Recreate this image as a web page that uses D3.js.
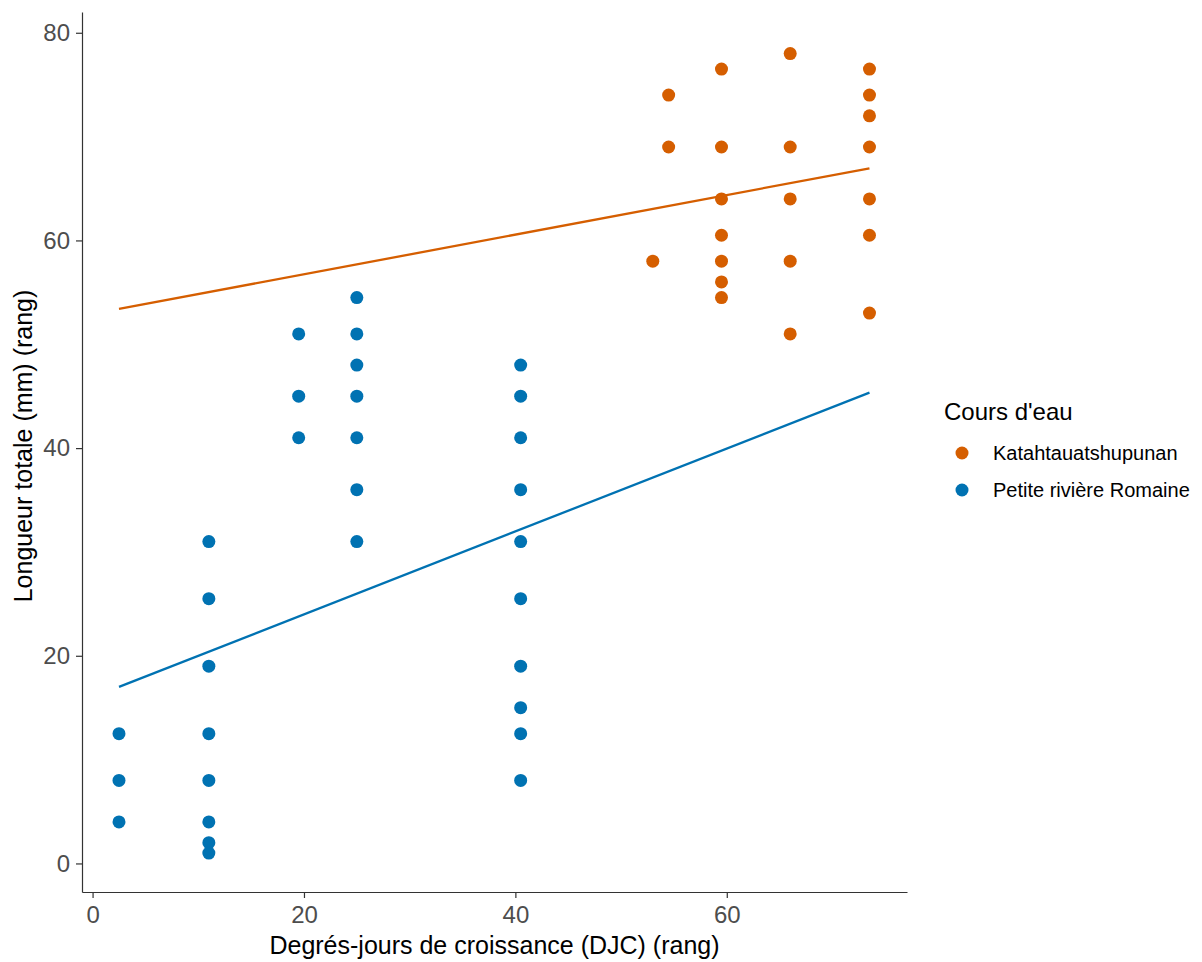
<!DOCTYPE html>
<html>
<head>
<meta charset="utf-8">
<script src="https://cdn.jsdelivr.net/npm/d3@7"></script>
<style>
  html, body { margin: 0; padding: 0; background: #fff; }
  svg { display: block; font-family: "Liberation Sans", Arial, sans-serif; }
</style>
</head>
<body>
<svg id="chart" width="1202" height="962"></svg>
<script>
// Rank of growing degree-days (x) vs rank of total length (y), per stream
const streams = ["Katahtauatshupunan", "Petite rivière Romaine"];
const streamColors = ["#D55E00", "#0072B2"];

const katX = [53, 54.5, 54.5,
  59.5, 59.5, 59.5, 59.5, 59.5, 59.5, 59.5,
  66, 66, 66, 66, 66,
  73.5, 73.5, 73.5, 73.5, 73.5, 73.5, 73.5];
const katY = [58, 74, 69,
  76.5, 69, 64, 60.5, 58, 56, 54.5,
  78, 69, 64, 58, 51,
  76.5, 74, 72, 69, 64, 60.5, 53];

const petX = [2.5, 2.5, 2.5,
  11, 11, 11, 11, 11, 11, 11, 11,
  19.5, 19.5, 19.5,
  25, 25, 25, 25, 25, 25, 25,
  40.5, 40.5, 40.5, 40.5, 40.5, 40.5, 40.5, 40.5, 40.5, 40.5];
const petY = [12.5, 8, 4,
  31, 25.5, 19, 12.5, 8, 4, 2, 1,
  51, 45, 41,
  54.5, 51, 48, 45, 41, 36, 31,
  48, 45, 41, 36, 31, 25.5, 19, 15, 12.5, 8];

// Fitted linear trends (rank scale), evaluated at the ends of the x range
const fitX = [2.5, 73.5];
const fitKat = [53.4, 66.95];
const fitPet = [17.0, 45.35];

const xTicks = [0, 20, 40, 60];
const yTicks = [0, 20, 40, 60, 80];

const xLabel = "Degrés-jours de croissance (DJC) (rang)";
const yLabel = "Longueur totale (mm) (rang)";
const legendTitle = "Cours d'eau";

const svg = d3.select("#chart");
const panel = { left: 82, right: 907, top: 12, bottom: 892 };

const x = d3.scaleLinear().domain([-1.0, 77.05]).range([panel.left, panel.right]);
const y = d3.scaleLinear().domain([-2.75, 82]).range([panel.bottom, panel.top]);

const groups = [
  { name: streams[0], color: streamColors[0], xs: katX, ys: katY, fit: fitKat },
  { name: streams[1], color: streamColors[1], xs: petX, ys: petY, fit: fitPet }
];

// trend lines
const line = d3.line().x(d => x(d[0])).y(d => y(d[1]));
groups.forEach(g => {
  svg.append("path")
    .datum(fitX.map((v, i) => [v, g.fit[i]]))
    .attr("d", line)
    .attr("fill", "none")
    .attr("stroke", g.color)
    .attr("stroke-width", 2.3);
});

// points
groups.forEach(g => {
  svg.append("g").selectAll("circle")
    .data(g.xs.map((v, i) => [v, g.ys[i]]))
    .join("circle")
    .attr("cx", d => x(d[0]))
    .attr("cy", d => y(d[1]))
    .attr("r", 6.5)
    .attr("fill", g.color);
});

// axes
const xAxis = svg.append("g")
  .attr("transform", `translate(0,${panel.bottom})`)
  .call(d3.axisBottom(x).tickValues(xTicks).tickSize(6).tickPadding(8).tickSizeOuter(0));
const yAxis = svg.append("g")
  .attr("transform", `translate(${panel.left},0)`)
  .call(d3.axisLeft(y).tickValues(yTicks).tickSize(6).tickPadding(6).tickSizeOuter(0));

[xAxis, yAxis].forEach(a => {
  a.select(".domain").attr("stroke", "#333").attr("stroke-width", 1.2);
  a.selectAll(".tick line").attr("stroke", "#333").attr("stroke-width", 1.2);
  a.selectAll(".tick text")
    .attr("fill", "#4D4D4D")
    .attr("font-size", 24)
    .attr("font-family", "'Liberation Sans', Arial, sans-serif");
});

// axis titles
svg.append("text")
  .attr("x", (panel.left + panel.right) / 2)
  .attr("y", 954)
  .attr("text-anchor", "middle")
  .attr("font-size", 25)
  .attr("fill", "#000")
  .text(xLabel);

svg.append("text")
  .attr("transform", `translate(32,${(panel.top + panel.bottom) / 2 - 6}) rotate(-90)`)
  .attr("text-anchor", "middle")
  .attr("font-size", 25)
  .attr("fill", "#000")
  .text(yLabel);

// legend
const legend = svg.append("g");
legend.append("text")
  .attr("x", 944)
  .attr("y", 420)
  .attr("font-size", 24)
  .attr("fill", "#000")
  .text(legendTitle);

groups.forEach((g, i) => {
  const cy = 453 + i * 37;
  legend.append("circle")
    .attr("cx", 962)
    .attr("cy", cy)
    .attr("r", 6.5)
    .attr("fill", g.color);
  legend.append("text")
    .attr("x", 993)
    .attr("y", cy)
    .attr("dy", "0.36em")
    .attr("font-size", 20)
    .attr("fill", "#000")
    .text(g.name);
});
</script>
</body>
</html>
